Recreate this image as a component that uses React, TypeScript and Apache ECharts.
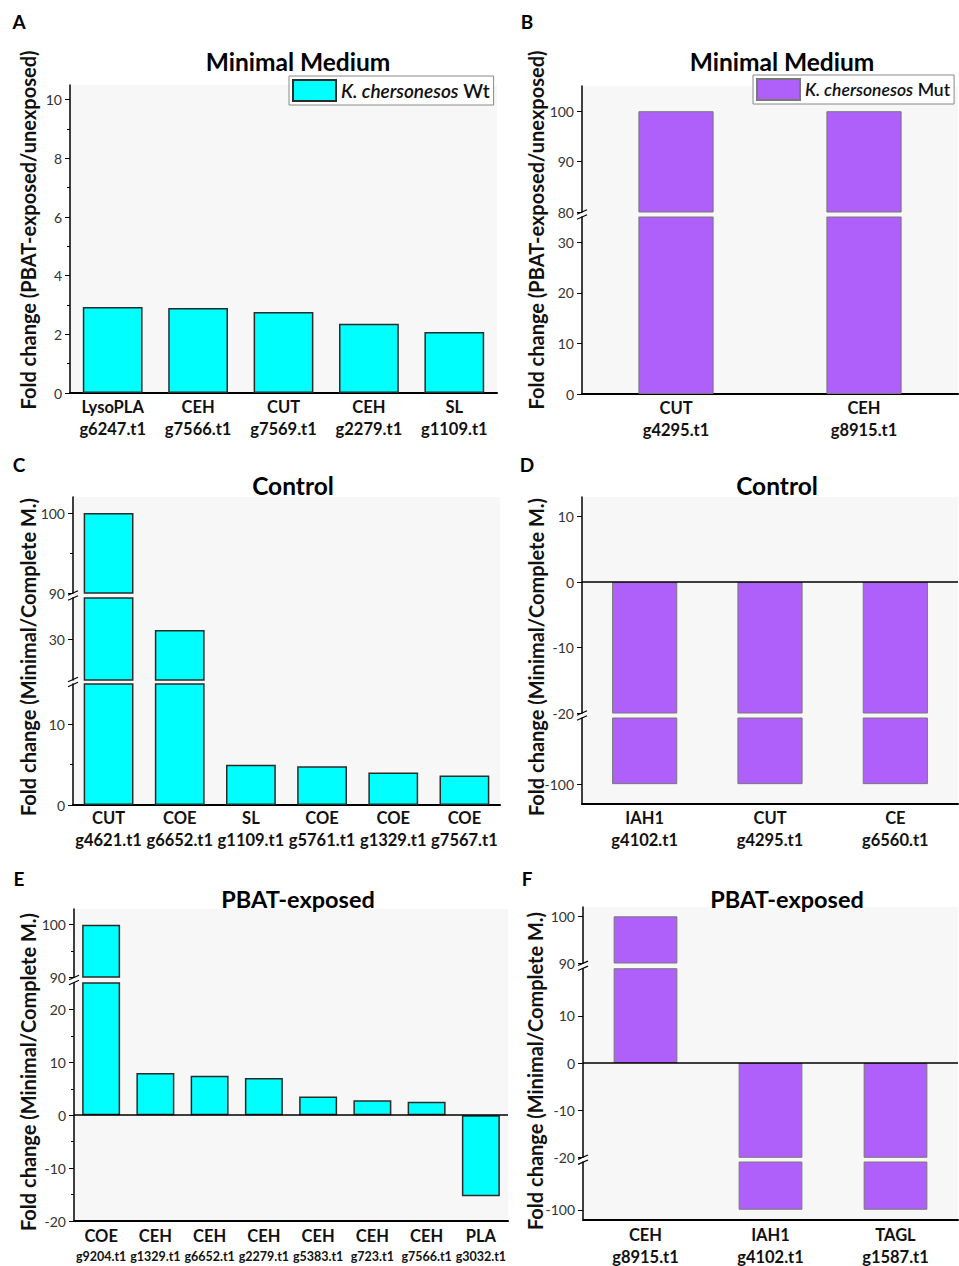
import React, { useEffect, useRef } from 'react';
import * as echarts from 'echarts';

const FONT = 'Lato, "Open Sans", "DejaVu Sans", sans-serif';

// ---------- data ----------
const NAME_WT = 'K. chersonesos Wt';
const NAME_MUT = 'K. chersonesos Mut';

const famA = ['LysoPLA', 'CEH', 'CUT', 'CEH', 'SL'];
const idA = ['g6247.t1', 'g7566.t1', 'g7569.t1', 'g2279.t1', 'g1109.t1'];
const valA = [2.93, 2.9, 2.76, 2.36, 2.08];

const famB = ['CUT', 'CEH'];
const idB = ['g4295.t1', 'g8915.t1'];
const valB = [100, 100];

const famC = ['CUT', 'COE', 'SL', 'COE', 'COE', 'COE'];
const idC = ['g4621.t1', 'g6652.t1', 'g1109.t1', 'g5761.t1', 'g1329.t1', 'g7567.t1'];
const valC = [100, 31.1, 5.0, 4.8, 4.04, 3.67];

const famD = ['IAH1', 'CUT', 'CE'];
const idD = ['g4102.t1', 'g4295.t1', 'g6560.t1'];
const valD = [-100, -100, -100];

const famE = ['COE', 'CEH', 'CEH', 'CEH', 'CEH', 'CEH', 'CEH', 'PLA'];
const idE = ['g9204.t1', 'g1329.t1', 'g6652.t1', 'g2279.t1', 'g5383.t1', 'g723.t1', 'g7566.t1', 'g3032.t1'];
const valE = [100, 8.0, 7.46, 7.02, 3.55, 2.85, 2.53, -15.3];

const famF = ['CEH', 'IAH1', 'TAGL'];
const idF = ['g8915.t1', 'g4102.t1', 'g1587.t1'];
const valF = [100, -100, -100];

// tick labels per axis segment
const ticksA = [0, 2, 4, 6, 8, 10];
const minorA = [1, 3, 5, 7, 9];
const ticksBHi = [80, 90, 100];
const ticksBLo = [0, 10, 20, 30];
const ticksCHi = [90, 100];
const minorCHi = [95];
const ticksCMid = [30];
const ticksCLo = [0, 10];
const minorCLo = [5];
const ticksDHi = [-20, -10, 0, 10];
const ticksDLo = [-100];
const ticksEHi = [90, 100];
const minorEHi = [95];
const ticksELo = [-20, -10, 0, 10, 20];
const minorELo = [-15, -5, 5, 15];
const ticksFHi = [90, 100];
const ticksFMid = [-20, -10, 0, 10];
const ticksFLo = [-100];

// ---------- styles / layout ----------
const CYAN = { color: '#00FFFF', borderColor: '#2b2b2b', borderWidth: 1.5 };
const PURPLE = { color: '#AF5FFA', borderColor: '#787878', borderWidth: 1 };

type Seg = { top: number; bottom: number; min: number; max: number; ticks: number[]; minor?: number[]; zero?: boolean };
type Panel = {
  letter: string; letterX: number; letterY: number;
  title: string; titleX: number; titleY: number; titleSize: number;
  ylabel: string; ylabelX: number; ylabelY: number;
  left: number; right: number; segs: Seg[];
  fam: string[]; ids: string[]; vals: number[];
  name: string; style: any; gap: string;
  idSize: number; lineH: number; margin: number;
};

const YL1 = 'Fold change (PBAT-exposed/unexposed)';
const YL2 = 'Fold change (Minimal/Complete M.)';

const panels: Panel[] = [
  {
    letter: 'A', letterX: 19, letterY: 21, title: 'Minimal Medium', titleX: 298, titleY: 61, titleSize: 24.5,
    ylabel: YL1, ylabelX: 28, ylabelY: 230,
    left: 70, right: 497,
    segs: [{ top: 85, bottom: 393, min: 0, max: 10.5, ticks: ticksA, minor: minorA }],
    fam: famA, ids: idA, vals: valA, name: NAME_WT, style: CYAN, gap: '30%', idSize: 16.5, lineH: 22, margin: 3,
  },
  {
    letter: 'B', letterX: 527, letterY: 21, title: 'Minimal Medium', titleX: 782, titleY: 61, titleSize: 24.5,
    ylabel: YL1, ylabelX: 536, ylabelY: 230,
    left: 582, right: 958,
    segs: [
      { top: 86, bottom: 212, min: 80, max: 105, ticks: ticksBHi },
      { top: 217, bottom: 394, min: 0, max: 35, ticks: ticksBLo },
    ],
    fam: famB, ids: idB, vals: valB, name: NAME_MUT, style: PURPLE, gap: '60%', idSize: 16.5, lineH: 22, margin: 3,
  },
  {
    letter: 'C', letterX: 19, letterY: 464, title: 'Control', titleX: 293, titleY: 485, titleSize: 24.5,
    ylabel: YL2, ylabelX: 28, ylabelY: 657,
    left: 73, right: 500,
    segs: [
      { top: 497, bottom: 593, min: 90, max: 102, ticks: ticksCHi, minor: minorCHi },
      { top: 598, bottom: 680, min: 25, max: 35, ticks: ticksCMid },
      { top: 684, bottom: 805, min: 0, max: 15, ticks: ticksCLo, minor: minorCLo },
    ],
    fam: famC, ids: idC, vals: valC, name: NAME_WT, style: CYAN, gap: '30%', idSize: 16.5, lineH: 22, margin: 2,
  },
  {
    letter: 'D', letterX: 527, letterY: 464, title: 'Control', titleX: 777, titleY: 485, titleSize: 24.5,
    ylabel: YL2, ylabelX: 536, ylabelY: 657,
    left: 582, right: 958,
    segs: [
      { top: 497, bottom: 713, min: -20, max: 13, ticks: ticksDHi, zero: true },
      { top: 718, bottom: 804, min: -103, max: -90, ticks: ticksDLo },
    ],
    fam: famD, ids: idD, vals: valD, name: NAME_MUT, style: PURPLE, gap: '48%', idSize: 16.5, lineH: 22, margin: 3,
  },
  {
    letter: 'E', letterX: 19, letterY: 878, title: 'PBAT-exposed', titleX: 298, titleY: 899, titleSize: 23.5,
    ylabel: YL2, ylabelX: 28, ylabelY: 1072,
    left: 74, right: 508,
    segs: [
      { top: 909, bottom: 977, min: 90, max: 103, ticks: ticksEHi, minor: minorEHi },
      { top: 983, bottom: 1221, min: -20, max: 25, ticks: ticksELo, minor: minorELo, zero: true },
    ],
    fam: famE, ids: idE, vals: valE, name: NAME_WT, style: CYAN, gap: '30%', idSize: 12.5, lineH: 21, margin: 4,
  },
  {
    letter: 'F', letterX: 527, letterY: 878, title: 'PBAT-exposed', titleX: 787, titleY: 899, titleSize: 23.5,
    ylabel: YL2, ylabelX: 535, ylabelY: 1071,
    left: 583, right: 958,
    segs: [
      { top: 907, bottom: 963, min: 90, max: 102, ticks: ticksFHi },
      { top: 968.7, bottom: 1157.3, min: -20, max: 20, ticks: ticksFMid, zero: true },
      { top: 1162, bottom: 1219.3, min: -102, max: -90, ticks: ticksFLo },
    ],
    fam: famF, ids: idF, vals: valF, name: NAME_MUT, style: PURPLE, gap: '49%', idSize: 16.5, lineH: 22, margin: 5,
  },
];

function textEl(text: string, x: number, y: number, size: number, opts: any = {}) {
  return {
    type: 'text', x, y, silent: true, z: 20, rotation: opts.rotation || 0,
    style: {
      text, fill: opts.fill || '#000', fontSize: size, fontWeight: opts.weight || 'bold', fontFamily: FONT,
      textAlign: opts.align || 'center', align: opts.align || 'center',
      textVerticalAlign: 'middle', verticalAlign: 'middle',
    },
  };
}

function buildOption() {
  const grid: any[] = [];
  const xAxis: any[] = [];
  const yAxis: any[] = [];
  const series: any[] = [];
  const graphic: any[] = [];

  panels.forEach((p) => {
    const last = p.segs[p.segs.length - 1];
    graphic.push({
      type: 'rect', silent: true, z: -10,
      shape: { x: p.left, y: p.segs[0].top, width: p.right - p.left, height: last.bottom - p.segs[0].top },
      style: { fill: '#f7f7f7' },
    });
    graphic.push(textEl(p.letter, p.letterX, p.letterY, 19));
    graphic.push(textEl(p.title, p.titleX, p.titleY, p.titleSize));
    graphic.push(textEl(p.ylabel, p.ylabelX, p.ylabelY, 20, { rotation: Math.PI / 2, fill: '#111' }));

    p.segs.forEach((s, si) => {
      const gi = grid.length;
      const isLast = si === p.segs.length - 1;
      grid.push({ left: p.left, top: s.top, width: p.right - p.left, height: s.bottom - s.top, containLabel: false });
      xAxis.push({
        gridIndex: gi, type: 'category', data: p.ids,
        axisLine: { show: isLast, onZero: false, lineStyle: { color: '#000', width: 2 } },
        axisTick: { show: false },
        axisLabel: {
          show: isLast, interval: 0, margin: p.margin,
          formatter: (_v: string, i: number) => `{a|${p.fam[i]}}\n{b|${p.ids[i]}}`,
          rich: {
            a: { fontSize: 16.5, fontWeight: 'bold', fontFamily: FONT, color: '#111', lineHeight: p.lineH },
            b: { fontSize: p.idSize, fontWeight: 'bold', fontFamily: FONT, color: '#111', lineHeight: p.lineH },
          },
        },
        splitLine: { show: false },
      });
      const yi = yAxis.length;
      yAxis.push({
        gridIndex: gi, type: 'value', min: s.min, max: s.max, position: 'left',
        axisLine: { show: true, onZero: false, lineStyle: { color: '#000', width: 1.5 } },
        axisTick: { show: true, customValues: s.ticks, length: 5, lineStyle: { color: '#000', width: 1 } },
        axisLabel: { show: true, customValues: s.ticks, margin: 8, color: '#333', fontSize: 14, fontFamily: FONT },
        splitLine: { show: false },
      });
      if (s.minor) {
        yAxis.push({
          gridIndex: gi, type: 'value', min: s.min, max: s.max, position: 'left',
          axisLine: { show: false, onZero: false },
          axisTick: { show: true, customValues: s.minor, length: 3, lineStyle: { color: '#000', width: 1 } },
          axisLabel: { show: false },
          splitLine: { show: false },
        });
      }
      series.push({
        type: 'bar', name: p.name, xAxisIndex: gi, yAxisIndex: yi, data: p.vals,
        barCategoryGap: p.gap, itemStyle: p.style, clip: true,
        markLine: s.zero
          ? {
              silent: true, symbol: ['none', 'none'], label: { show: false },
              lineStyle: { color: '#000', width: 1.5, type: 'solid' }, data: [{ yAxis: 0 }],
            }
          : undefined,
      });

      // break mark between this segment and the next
      if (!isLast) {
        const gy = (s.bottom + p.segs[si + 1].top) / 2;
        const ax = p.left;
        [-2.5, 2.5].forEach((o) => {
          graphic.push({
            type: 'line', silent: true, z: 20,
            shape: { x1: ax - 5, y1: gy + o + 2.2, x2: ax + 5, y2: gy + o - 2.2 },
            style: { stroke: '#000', lineWidth: 1.2 },
          });
        });
      }
    });
  });

  const mkLegendText = (size: number) => ({
    fontSize: size, fontFamily: FONT, color: '#111',
    rich: {
      i: { fontSize: size, fontStyle: 'italic', fontWeight: 600, fontFamily: FONT, color: '#111' },
      n: { fontSize: size, fontWeight: 600, fontFamily: FONT, color: '#111' },
    },
  });

  return {
    animation: false,
    backgroundColor: '#ffffff',
    grid, xAxis, yAxis, series, graphic,
    legend: [
      {
        data: [NAME_WT], left: 289, top: 76, orient: 'horizontal', icon: 'rect',
        itemWidth: 43, itemHeight: 21, padding: [3, 4, 3, 3],
        backgroundColor: '#fff', borderColor: '#888', borderWidth: 1, borderRadius: 0,
        selectedMode: false, textStyle: mkLegendText(19),
        formatter: () => '{i|K. chersonesos} {n|Wt}',
      },
      {
        data: [NAME_MUT], left: 753, top: 75, orient: 'horizontal', icon: 'rect',
        itemWidth: 43, itemHeight: 21, padding: [3, 4, 3, 3],
        backgroundColor: '#fff', borderColor: '#888', borderWidth: 1, borderRadius: 0,
        selectedMode: false, textStyle: mkLegendText(17.5),
        formatter: () => '{i|K. chersonesos} {n|Mut}',
      },
    ],
  };
}

export default function App() {
  const ref = useRef<HTMLDivElement>(null);
  useEffect(() => {
    if (!ref.current) return;
    const chart = echarts.init(ref.current, undefined, { renderer: 'svg' });
    chart.setOption(buildOption() as any);
    return () => chart.dispose();
  }, []);
  return <div ref={ref} style={{ position: 'absolute', left: 0, top: 0, width: 959, height: 1266 }} />;
}
